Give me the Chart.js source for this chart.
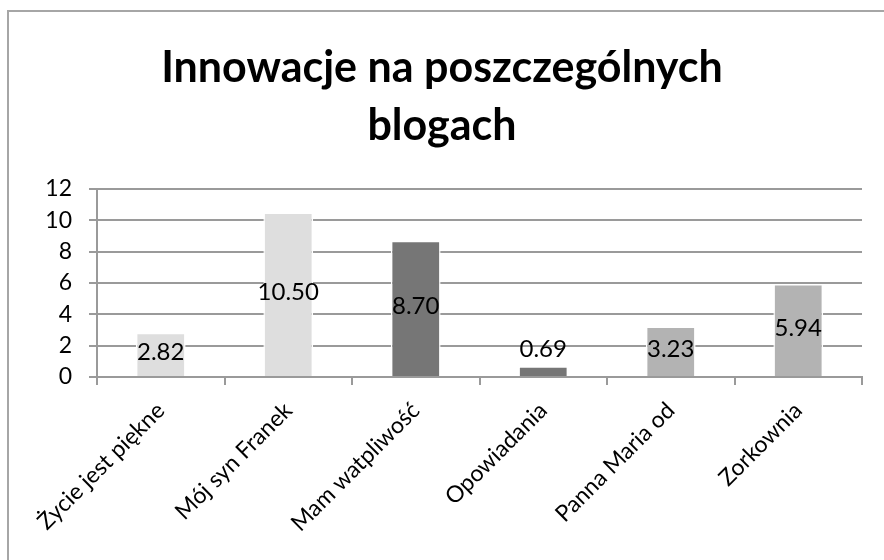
<!DOCTYPE html>
<html><head><meta charset="utf-8">
<script src="https://cdn.jsdelivr.net/npm/chart.js@4"></script>
<style>html,body{margin:0;padding:0;background:#fff;} canvas{display:block;}</style>
</head><body>
<canvas id="c" width="884" height="560"></canvas>
<script>
const categories = ["Życie jest piękne", "Mój syn Franek", "Mam watpliwość", "Opowiadania", "Panna Maria od", "Zorkownia"];
const values = [2.82, 10.50, 8.70, 0.69, 3.23, 5.94];
const valueLabels = ["2.82", "10.50", "8.70", "0.69", "3.23", "5.94"];
const barColors = ["#dedede", "#dedede", "#767676", "#767676", "#b3b3b3", "#b3b3b3"];
const yTicks = [0, 2, 4, 6, 8, 10, 12];
const titleLines = ["Innowacje na poszczególnych", "blogach"];

const FONT = "Lato, 'Open Sans', sans-serif";
const GRID = "#9a9a9a";

const framePlugin = {
  id: 'frame',
  beforeDraw(chart) {
    const ctx = chart.ctx;
    ctx.save();
    ctx.fillStyle = '#ffffff';
    ctx.fillRect(0, 0, chart.width, chart.height);
    ctx.restore();
  },
  afterDraw(chart) {
    const ctx = chart.ctx;
    ctx.save();
    ctx.strokeStyle = '#a6a6a6';
    ctx.lineWidth = 2;
    ctx.beginPath();
    ctx.moveTo(8, chart.height + 5);
    ctx.lineTo(8, 11);
    ctx.lineTo(chart.width + 5, 11);
    ctx.stroke();
    // title
    ctx.fillStyle = '#000';
    ctx.font = "bold 43px " + FONT;
    ctx.textAlign = 'center';
    ctx.textBaseline = 'alphabetic';
    ctx.fillText(titleLines[0], 442, 82);
    ctx.fillText(titleLines[1], 442, 140);
    ctx.restore();
  }
};

const labelPlugin = {
  id: 'valueLabels',
  afterDatasetsDraw(chart) {
    const ctx = chart.ctx;
    const meta = chart.getDatasetMeta(0);
    ctx.save();
    ctx.font = "24px " + FONT;
    ctx.fillStyle = '#000';
    ctx.textAlign = 'center';
    ctx.textBaseline = 'middle';
    meta.data.forEach((bar, i) => {
      const h = bar.base - bar.y;
      let y;
      if (h > 28) y = (bar.y + bar.base) / 2 - 2;
      else y = bar.y - 17;
      ctx.fillText(valueLabels[i], bar.x, y);
    });
    ctx.restore();
  }
};

new Chart(document.getElementById('c'), {
  type: 'bar',
  data: {
    labels: categories,
    datasets: [{
      data: values,
      backgroundColor: barColors,
      borderColor: '#ffffff',
      borderWidth: 1.5,
      categoryPercentage: 1,
      barPercentage: 0.39
    }]
  },
  options: {
    responsive: false,
    animation: false,
    devicePixelRatio: 1,
    layout: { padding: { left: 0, right: 22, top: 189, bottom: 0 } },
    plugins: {
      legend: { display: false },
      tooltip: { enabled: false },
      title: { display: false }
    },
    scales: {
      x: {
        afterFit(scale) { scale.height = 560 - 377; },
        grid: { drawOnChartArea: false, drawTicks: true, tickLength: 8, color: GRID, lineWidth: 2, offset: true },
        border: { color: GRID, width: 2 },
        ticks: {
          color: '#000',
          font: { family: FONT, size: 23 },
          minRotation: 45, maxRotation: 45,
          padding: 12,
          autoSkip: false
        }
      },
      y: {
        min: 0, max: 12,
        afterFit(scale) { scale.width = 97; },
        afterBuildTicks(scale) { scale.ticks = yTicks.map(v => ({ value: v })); },
        grid: { color: GRID, lineWidth: 2, tickLength: 8 },
        border: { color: GRID, width: 2 },
        ticks: {
          color: '#000',
          font: { family: FONT, size: 23 },
          padding: 17,
          autoSkip: false
        }
      }
    }
  },
  plugins: [framePlugin, labelPlugin]
});
</script>
</body></html>
